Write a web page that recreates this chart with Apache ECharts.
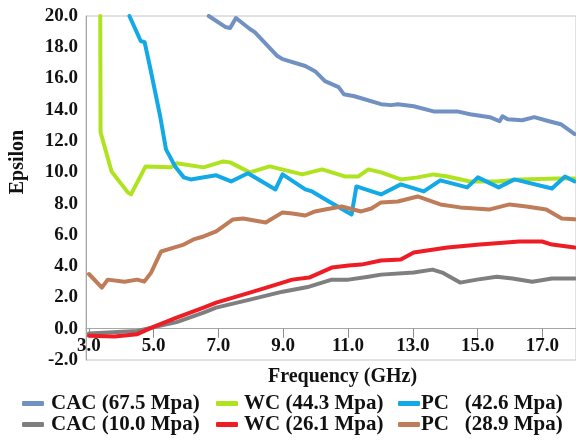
<!DOCTYPE html>
<html>
<head>
<meta charset="utf-8">
<script src="https://cdn.jsdelivr.net/npm/echarts@6/dist/echarts.min.js"></script>
<style>html,body{margin:0;padding:0;background:#fff;}#c{width:576px;height:442px;}</style>
</head>
<body>
<div id="c"></div>
<script>
const xTicks = [3, 5, 7, 9, 11, 13, 15, 17];
const xAxisTitle = 'Frequency (GHz)';
const seriesNames = ['CAC (67.5 Mpa)', 'CAC (10.0 Mpa)', 'WC (44.3 Mpa)', 'WC (26.1 Mpa)', 'PC   (42.6 Mpa)', 'PC   (28.9 Mpa)'];
const seriesColors = ['#7191c2', '#7f7f7f', '#afe31f', '#ee1c25', '#12a9e6', '#bf7c58'];

const cac675 = [[6.7,20.0],[7.21,19.3],[7.36,19.23],[7.54,19.87],[7.97,19.17],[8.12,18.97],[8.82,17.44],[8.98,17.24],[9.68,16.8],[9.98,16.47],[10.29,15.83],[10.71,15.45],[10.87,15.0],[11.2,14.87],[12.02,14.36],[12.33,14.3],[12.54,14.36],[13.03,14.23],[13.64,13.9],[14.37,13.9],[14.77,13.72],[15.38,13.53],[15.68,13.27],[15.77,13.59],[15.93,13.4],[16.38,13.33],[16.75,13.53],[17.21,13.27],[17.57,13.08],[18.0,12.45]];
const cac100 = [[3.0,-0.3],[4.49,-0.15],[5.01,0.1],[5.71,0.42],[6.54,1.03],[6.93,1.35],[7.97,1.86],[8.98,2.37],[9.8,2.69],[10.5,3.14],[11.02,3.14],[11.63,3.33],[12.02,3.46],[13.03,3.59],[13.61,3.78],[13.91,3.59],[14.46,2.95],[14.98,3.14],[15.59,3.33],[16.08,3.21],[16.69,3.01],[17.3,3.21],[18.0,3.21]];
const wc443 = [[3.35,20.0],[3.36,12.56],[3.7,10.06],[4.2,8.72],[4.3,8.59],[4.75,10.38],[5.53,10.32],[5.71,10.58],[6.54,10.32],[7.15,10.7],[7.36,10.64],[7.97,10.0],[8.58,10.38],[9.59,9.87],[10.2,10.19],[10.9,9.74],[11.32,9.74],[11.63,10.19],[12.02,10.0],[12.63,9.55],[13.15,9.68],[13.64,9.87],[14.07,9.74],[14.77,9.42],[15.59,9.42],[16.29,9.55],[17.51,9.6],[18.0,9.6]];
const wc261 = [[3.0,-0.45],[3.79,-0.5],[4.49,-0.35],[5.01,0.13],[5.71,0.71],[6.54,1.35],[6.93,1.67],[7.97,2.31],[8.58,2.69],[9.28,3.14],[9.8,3.27],[10.5,3.91],[11.02,4.04],[11.41,4.1],[12.02,4.36],[12.63,4.42],[13.03,4.87],[14.07,5.19],[15.07,5.38],[16.29,5.58],[16.99,5.58],[17.3,5.38],[18.0,5.19]];
const pc426 = [[4.25,20.0],[4.6,18.4],[4.72,18.33],[4.88,16.8],[5.2,13.59],[5.38,11.47],[5.68,10.32],[5.93,9.68],[6.14,9.55],[6.93,9.81],[7.39,9.42],[7.91,9.94],[8.76,8.91],[8.98,9.87],[9.68,8.91],[9.89,8.78],[10.41,8.14],[11.11,7.3],[11.26,9.1],[12.02,8.59],[12.63,9.23],[13.34,8.78],[13.85,9.49],[14.68,9.04],[15.01,9.68],[15.65,9.04],[16.14,9.55],[17.3,8.97],[17.7,9.74],[18.0,9.42]];
const pc289 = [[3.0,3.5],[3.4,2.63],[3.58,3.14],[4.1,3.01],[4.49,3.14],[4.71,3.01],[4.92,3.59],[5.23,4.94],[5.62,5.19],[5.93,5.38],[6.23,5.71],[6.54,5.9],[6.93,6.22],[7.45,6.99],[7.76,7.05],[8.46,6.79],[8.98,7.44],[9.28,7.37],[9.68,7.24],[9.98,7.5],[10.29,7.63],[10.8,7.82],[11.41,7.5],[11.72,7.69],[12.02,8.08],[12.54,8.14],[13.15,8.46],[13.85,7.95],[14.46,7.76],[15.38,7.63],[15.99,7.95],[16.51,7.82],[17.12,7.63],[17.6,7.05],[18.0,7.0]];

const seriesData = [cac675, cac100, wc443, wc261, pc426, pc289];
const serif = '"Liberation Serif", "Times New Roman", serif';

const chart = echarts.init(document.getElementById('c'), null, {renderer: 'canvas'});

function legendCol(left, names, gap) {
  return {
    orient: 'vertical', left: left, top: 393, itemGap: 0,
    itemWidth: 22, itemHeight: 5, icon: 'roundRect',
    padding: 0, data: names,
    textStyle: { fontFamily: serif, fontWeight: 'bold', fontSize: 21, color: '#111', lineHeight: 21, padding: [0,0,0,gap] }
  };
}

chart.setOption({
  animation: false,
  backgroundColor: '#fff',
  grid: { left: 82, right: 0, top: 16, bottom: 82, show: true, borderColor: '#c4c4c4', borderWidth: 1 },
  graphic: [{
    type: 'text', left: 268, top: 367,
    style: { text: xAxisTitle, font: 'bold 20px ' + serif, fill: '#111' }
  }],
  xAxis: {
    type: 'value', min: 2.91, max: 18.04,
    axisLine: { onZero: true, lineStyle: { color: '#a6a6a6', width: 1 } },
    axisTick: { show: true, length: 9, lineStyle: { color: '#8c8c8c' }, customValues: xTicks },
    axisLabel: { customValues: xTicks, margin: -23, fontFamily: serif, fontWeight: 'bold', fontSize: 19, color: '#111', formatter: v => v.toFixed(1) },
    splitLine: { show: false }
  },
  yAxis: {
    type: 'value', min: -2, max: 20, interval: 2,
    name: 'Epsilon', nameLocation: 'middle', nameGap: 58, nameRotate: 90,
    nameTextStyle: { fontFamily: serif, fontWeight: 'bold', fontSize: 20, color: '#111', padding: [0,0,0,52] },
    axisLine: { show: true, lineStyle: { color: '#a6a6a6', width: 1 } },
    axisTick: { show: false },
    axisLabel: { margin: 8, fontFamily: serif, fontWeight: 'bold', fontSize: 19, color: '#111', formatter: v => v.toFixed(1), padding: [4,0,0,0] },
    splitLine: { show: false }
  },
  legend: [
    legendCol(22, [seriesNames[0], seriesNames[1]], 2),
    legendCol(216, [seriesNames[2], seriesNames[3]], 1),
    legendCol(398, [seriesNames[4], seriesNames[5]], -4)
  ],
  series: seriesData.map((d, i) => ({
    name: seriesNames[i], type: 'line', data: d,
    showSymbol: false, symbol: 'none', smooth: false,
    lineStyle: { color: seriesColors[i], width: 4, cap: 'round', join: 'round' },
    itemStyle: { color: seriesColors[i] },
    clip: true
  }))
});
</script>
</body>
</html>
